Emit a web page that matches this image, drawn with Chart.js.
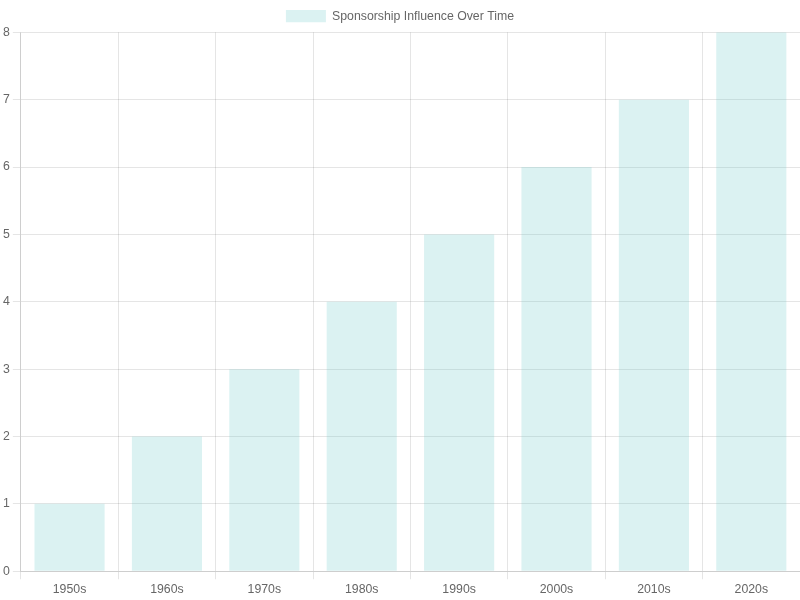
<!DOCTYPE html>
<html>
<head>
<meta charset="utf-8">
<style>
  html, body { margin: 0; padding: 0; background: #fff; }
  #wrap { width: 800px; height: 600px; }
</style>
<script src="https://cdn.jsdelivr.net/npm/chart.js@4/dist/chart.umd.min.js"></script>
</head>
<body>
<div id="wrap"><canvas id="chart"></canvas></div>
<script>
const decades = ['1950s', '1960s', '1970s', '1980s', '1990s', '2000s', '2010s', '2020s'];
const influence = [1, 2, 3, 4, 5, 6, 7, 8];
const seriesLabel = 'Sponsorship Influence Over Time';

// text in the picture is a hair larger than the 12px default
Chart.defaults.font.size = 12.3;

new Chart(document.getElementById('chart'), {
  type: 'bar',
  data: {
    labels: decades,
    datasets: [{
      label: seriesLabel,
      data: influence,
      backgroundColor: 'rgba(75, 192, 192, 0.2)',
      borderWidth: 0
    }]
  },
  options: {
    responsive: true,
    maintainAspectRatio: false,
    animation: false,
    scales: {
      y: { beginAtZero: true }
    }
  }
});
</script>
</body>
</html>
